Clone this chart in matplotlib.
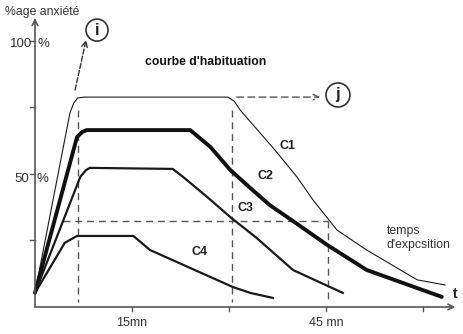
import matplotlib.pyplot as plt
from matplotlib.patches import Ellipse

plt.rcParams['font.family'] = ['Liberation Sans', 'DejaVu Sans']

# curves: time (mn) / anxiety (%)
c1_t = [0, 5.4, 6.0, 6.6, 7.7, 29.8, 30.8, 31.7, 37.1, 40.5, 43.0, 46.7, 51.3, 59.1, 63.4]
c1_y = [5.3, 72.9, 76.7, 78.6, 78.9, 78.9, 77.4, 74.1, 59.0, 48.9, 40.2, 28.9, 21.4, 10.2, 8.3]

c2_t = [0, 6.5, 7.3, 8.0, 24.0, 27.1, 30.2, 33.3, 36.3, 39.9, 45.2, 51.3, 62.9]
c2_y = [5.3, 63.9, 65.8, 66.5, 66.5, 60.2, 51.5, 44.7, 38.3, 32.3, 23.3, 13.9, 3.8]

c3_t = [0, 7.0, 7.9, 8.5, 21.3, 22.9, 26.6, 30.2, 34.3, 39.9, 47.6]
c3_y = [5.3, 48.9, 51.5, 52.3, 51.9, 48.9, 41.4, 33.8, 25.9, 13.9, 5.3]

c4_t = [0, 4.6, 6.5, 15.2, 17.8, 24.7, 30.6, 33.3, 36.8]
c4_y = [5.3, 24.1, 26.7, 26.7, 21.4, 13.9, 7.5, 5.3, 3.4]

x_ticks = [15, 30, 45, 60]
x_labels = ['15mn', '', '45 mn', '']
y_ticks = [25, 50, 75, 100]

fig = plt.figure(figsize=(4.63, 3.34), dpi=100)
ax = fig.add_axes([0, 0, 1, 1])
ax.set_xlim(-5.41, 66.18)
ax.set_ylim(-10.15, 115.4)
ax.axis('off')

axis_col = '#555555'
dark = '#1a1a1a'
txt = '#333333'

# axes with arrows
ax.annotate('', xy=(0, 108.6), xytext=(0, 0),
            arrowprops=dict(arrowstyle='->', color=axis_col, lw=1.2, shrinkA=0, shrinkB=0))
ax.annotate('', xy=(65.0, 0), xytext=(0, 0),
            arrowprops=dict(arrowstyle='->', color=axis_col, lw=1.2, shrinkA=0, shrinkB=0))
for t in x_ticks:
    ax.plot([t, t], [0, -1.6], color=axis_col, lw=1)
for v in y_ticks:
    ax.plot([0, -0.8], [v, v], color=axis_col, lw=1)
for t, lab in zip(x_ticks, x_labels):
    ax.text(t, -6.2, lab, ha='center', va='center', fontsize=9, color=txt)

# reference dashed lines
dash = dict(color='#555555', lw=1, linestyle=(0, (5, 3.5)))
ax.plot([6.65, 6.65], [74.1, 1.9], **dash)
ax.plot([30.46, 30.46], [74.1, 1.9], **dash)
ax.plot([45.3, 45.3], [32.3, 2.6], **dash)
ax.plot([4.33, 45.3], [32.3, 32.3], **dash)

# curves
ax.plot(c1_t, c1_y, color=dark, lw=0.8)
ax.plot(c2_t, c2_y, color='#111111', lw=2.8, solid_capstyle='round')
ax.plot(c3_t, c3_y, color=dark, lw=1.6)
ax.plot(c4_t, c4_y, color=dark, lw=1.6)

# dashed arrows to circles
ax.annotate('', xy=(7.9, 100.4), xytext=(6.2, 81.6),
            arrowprops=dict(arrowstyle='->', color='#333333', lw=1, linestyle='--',
                            shrinkA=0, shrinkB=0))
ax.annotate('', xy=(44.1, 78.9), xytext=(31.2, 78.9),
            arrowprops=dict(arrowstyle='->', color='#555555', lw=1, linestyle=(0, (5, 3)),
                            shrinkA=0, shrinkB=0))
for cx, cy, r, letter in [(9.59, 104.1, 11, 'i'), (46.85, 79.7, 12, 'j')]:
    ax.add_patch(Ellipse((cx, cy), 2 * r / 6.467, 2 * r / 2.66, fill=False,
                         edgecolor='#333333', lw=1.2))
    ax.text(cx, cy, letter, ha='center', va='center', fontsize=12,
            fontweight='bold', color='#222222')

# texts
ax.text(-4.64, 110.9, '%age anxiété', fontsize=8.8, color=txt, va='center')
ax.text(-0.5, 99.0, '100', fontsize=9.5, color=txt, ha='right', va='center')
ax.text(0.45, 99.0, '%', fontsize=9.5, color=txt, ha='left', va='center')
ax.text(-0.9, 48.1, '50', fontsize=9.5, color=txt, ha='right', va='center')
ax.text(0.3, 48.1, '%', fontsize=9.5, color=txt, ha='left', va='center')
ax.text(26.4, 92.1, "courbe d'habituation", fontsize=8.8, fontweight='bold',
        color='#111111', ha='center', va='center')
for lab, (lx, ly) in {'C1': (39.0, 60.5), 'C2': (35.7, 49.2),
                      'C3': (32.5, 37.2), 'C4': (25.5, 20.7)}.items():
    ax.text(lx, ly, lab, fontsize=9, fontweight='bold', color='#222222',
            ha='center', va='center')
ax.text(54.4, 26.0, "temps\nd'expcsition", fontsize=8.8, color=txt,
        ha='left', va='center', linespacing=1.15)
ax.text(65.0, 4.9, 't', fontsize=10, fontweight='bold', color='#222222',
        ha='center', va='center')

fig.savefig('out.png', dpi=100)
